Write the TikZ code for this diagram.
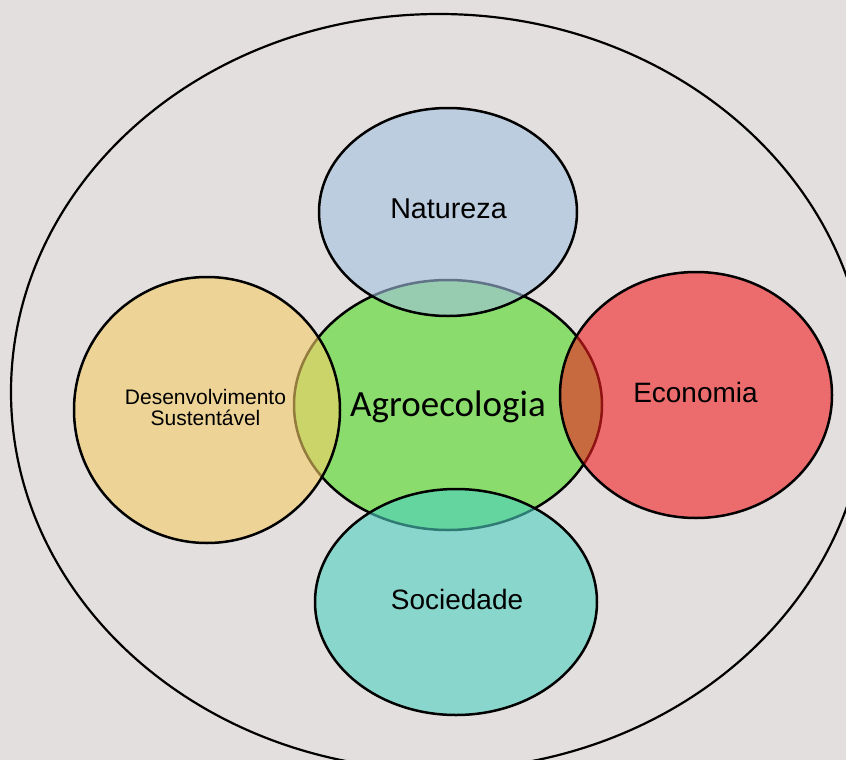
\documentclass[tikz,border=0pt]{standalone}
\usepackage{fontspec}
\setmainfont{Liberation Sans}
\newfontfamily\calib{Carlito}
\usetikzlibrary{shapes.geometric}
\definecolor{bgc}{RGB}{227,223,222}
\definecolor{agroc}{RGB}{138,221,108}
\definecolor{natc}{RGB}{162,193,224}
\definecolor{desc}{RGB}{245,206,102}
\definecolor{ecoc}{RGB}{242,30,33}
\definecolor{socc}{RGB}{77,208,194}
\tikzset{
  circ/.style={ellipse, draw=black, line width=2.5pt, inner sep=0pt},
  topcirc/.style={circ, fill opacity=0.6, draw opacity=1},
  lbl/.style={text=black, inner sep=0pt, font=\fontsize{28}{32}\selectfont},
}
\begin{document}
\begin{tikzpicture}[x=1pt,y=-1pt]
\useasboundingbox (0,0) rectangle (846,760);
\clip (0,0) rectangle (846,760);
\fill[bgc] (0,0) rectangle (846,760);
\node[ellipse, draw=black, line width=2.2pt, minimum width=856pt, minimum height=756pt, inner sep=0pt] (outer) at (439,392) {};
\node[circ, fill=agroc, minimum width=308pt, minimum height=250pt] (agro) at (448,405) {};
\node[topcirc, fill=natc, minimum width=258pt, minimum height=208pt] (nat) at (448,212) {};
\node[topcirc, fill=desc, minimum width=266pt, minimum height=266pt] (des) at (207,410) {};
\node[topcirc, fill=ecoc, minimum width=272pt, minimum height=246pt] (eco) at (696,395) {};
\node[topcirc, fill=socc, minimum width=282pt, minimum height=226pt] (soc) at (456,602) {};
\node[lbl, anchor=base, font=\fontsize{28.7}{32}\selectfont] (tnat) at (448.5,218) {Natureza};
\node[lbl, anchor=base] (teco) at (695.5,402) {Economia};
\node[lbl, anchor=base] (tsoc) at (457,609) {Sociedade};
\node[lbl, anchor=center, align=center, font=\fontsize{21}{21}\selectfont] (tdes) at (205.5,407) {Desenvolvimento\\Sustentável};
\node[lbl, anchor=base, font=\calib\fontsize{37}{42}\selectfont] (tagro) at (448,416) {Agroecologia};
\end{tikzpicture}
\end{document}
